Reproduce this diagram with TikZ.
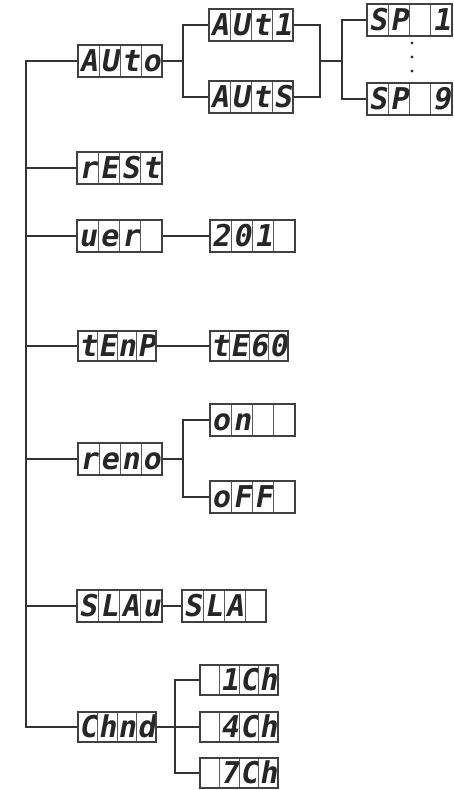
\documentclass[tikz,border=0pt]{standalone}
\usepackage{fontspec}
\newfontfamily\segfont{DejaVu Sans Mono}[FakeSlant=0.18]
\tikzset{
  conn/.style={line width=1.3pt, draw=black!80},
  dispframe/.style={draw=black!75, line width=1.1pt, inner sep=0pt},
  cellbox/.style={draw=black!65, line width=0.7pt, inner sep=0pt, fill=white,
    font=\segfont\bfseries\fontsize{30}{30}\selectfont, text height=21.5pt, text depth=0pt, text=black!85},
  dots/.style={fill=black!80},
}
\def\segh{32}
\newcommand\segdisp[8]{%
  \node[cellbox, minimum width=#4pt, minimum height=\segh pt] (#1-1) at ({#2+0.5*#4},#3) {#5};
  \node[cellbox, minimum width=#4pt, minimum height=\segh pt] (#1-2) at ({#2+1.5*#4},#3) {#6};
  \node[cellbox, minimum width=#4pt, minimum height=\segh pt] (#1-3) at ({#2+2.5*#4},#3) {#7};
  \node[cellbox, minimum width=#4pt, minimum height=\segh pt] (#1-4) at ({#2+3.5*#4},#3) {#8};
  \node[dispframe, minimum width=4*#4pt, minimum height=\segh pt] (#1) at ({#2+2*#4},#3) {};
}
\begin{document}
\begin{tikzpicture}[x=1pt,y=-1pt]
\useasboundingbox (0,0) rectangle (454,790);
% displays
\segdisp{auto}{78}{61}{21}{A}{U}{t}{o}
\segdisp{aut1}{209}{25}{21}{A}{U}{t}{1}
\segdisp{auts}{209}{97}{21}{A}{U}{t}{S}
\segdisp{spa}{367}{20}{21.25}{S}{P}{}{1}
\segdisp{spb}{367}{99}{21.25}{S}{P}{}{9}
\segdisp{rest}{77}{168}{21.25}{r}{E}{S}{t}
\segdisp{ver}{77}{236}{21.25}{u}{e}{r}{}
\segdisp{vnum}{210}{236}{21.25}{2}{0}{1}{}
\def\segh{30}
\segdisp{temp}{78}{346}{19.5}{t}{E}{n}{P}
\segdisp{tesix}{210}{346}{19.5}{t}{E}{6}{0}
\def\segh{32}
\segdisp{reno}{78}{459}{21}{r}{e}{n}{o}
\segdisp{on}{210}{420}{21.25}{o}{n}{}{}
\segdisp{off}{210}{497}{21.25}{o}{F}{F}{}
\segdisp{slau}{77}{606}{21.25}{S}{L}{A}{u}
\segdisp{sla}{182}{606}{21}{S}{L}{A}{}
\def\segh{30}
\segdisp{chnd}{78}{727}{19.5}{C}{h}{n}{d}
\segdisp{cha}{200}{680}{19.5}{}{1}{C}{h}
\segdisp{chb}{200}{727}{19.5}{}{4}{C}{h}
\segdisp{chc}{200}{773}{19.5}{}{7}{C}{h}
% trunk
\coordinate (trunk) at (26,0);
\draw[conn] (auto.west) -- (auto.west -| trunk) -- (chnd.west -| trunk) -- (chnd.west);
\foreach \n in {rest,ver,temp,reno,slau}{\draw[conn] (\n.west) -- (\n.west -| trunk);}
% direct links
\draw[conn] (ver.east) -- (vnum.west);
\draw[conn] (temp.east) -- (tesix.west);
\draw[conn] (slau.east) -- (sla.west);
% auto branch
\coordinate (ja) at (183,61);
\coordinate (jb) at (320,61);
\coordinate (jc) at (342,61);
\draw[conn] (auto.east) -- (ja);
\draw[conn] (aut1.west) -| (ja) |- (auts.west);
\draw[conn] (aut1.east) -| (jb) |- (auts.east);
\draw[conn] (jb) -- (jc);
\draw[conn] (spa.west) -| (jc) |- (spb.west);
\fill[dots] (412,43) circle (1.7pt) (412,57) circle (1.7pt) (412,71) circle (1.7pt);
% reno branch
\coordinate (jr) at (183,459);
\draw[conn] (reno.east) -- (jr);
\draw[conn] (on.west) -| (jr) |- (off.west);
% chnd branch
\coordinate (jch) at (175,727);
\draw[conn] (chnd.east) -- (chb.west);
\draw[conn] (cha.west) -| (jch) |- (chc.west);
\end{tikzpicture}
\end{document}
